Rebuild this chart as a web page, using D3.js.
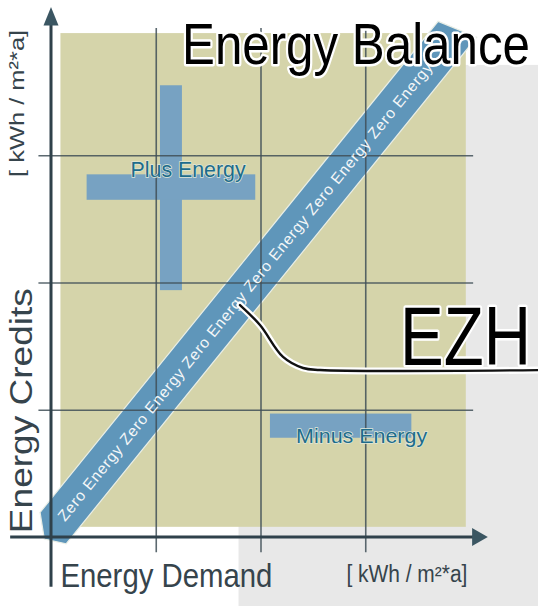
<!DOCTYPE html>
<html>
<head>
<meta charset="utf-8">
<script src="https://cdn.jsdelivr.net/npm/d3@7"></script>
<style>
  html, body { margin: 0; padding: 0; background: #fff; }
  svg { display: block; font-family: "Liberation Sans", Arial, sans-serif; }
</style>
</head>
<body>
<div id="chart"></div>
<script>
const width = 538;
const height = 606;

// values in grid units (kWh / m²*a)
const gridValues = [1, 2, 3];
const plotBox = [0.09, 3.96, 0.08, 3.96];          // x0, x1, y0, y1 (beige field)
const backBox = [1.79, 4.7, -0.6, 3.71];           // grey backdrop
const plusBars = [[1.04, 1.25, 1.94, 3.55], [0.34, 1.95, 2.65, 2.85]];
const minusBars = [[2.09, 3.44, 0.78, 0.97]];
const zeroBand = [[0.02, 0.07], [3.88, 3.99]];
const zeroWords = ["Zero Energy", "Zero Energy", "Zero Energy", "Zero Energy", "Zero Energy", "Zero Energy"];
const leaderPoints = [[1.804, 1.823], [1.995, 1.666], [2.215, 1.415], [2.406, 1.328], [2.568, 1.312], [4.7, 1.312]];
const titleText = "Energy Balance";
const tagText = "EZH";
const xTitle = "Energy Demand";
const yTitle = "Energy Credits";
const unitText = "[ kWh / m²*a]";
const plusText = "Plus Energy";
const minusText = "Minus Energy";

const svg = d3.select("#chart")
  .append("svg")
  .attr("width", width)
  .attr("height", height);

const x = d3.scaleLinear().domain([0, 4]).range([51, 470]);
const y = d3.scaleLinear().domain([0, 4]).range([537, 28]);

svg.append("rect").attr("width", width).attr("height", height).attr("fill", "#fff");

// grey backdrop and beige field
svg.append("rect")
  .attr("x", x(backBox[0])).attr("y", y(backBox[3]))
  .attr("width", x(backBox[1]) - x(backBox[0]))
  .attr("height", y(backBox[2]) - y(backBox[3]))
  .attr("fill", "#e8e8e8");

svg.append("rect")
  .attr("x", x(plotBox[0])).attr("y", y(plotBox[3]))
  .attr("width", x(plotBox[1]) - x(plotBox[0]))
  .attr("height", y(plotBox[2]) - y(plotBox[3]))
  .attr("fill", "#d5d4aa");

// plus / minus blocks
svg.selectAll(".blk")
  .data(plusBars.concat(minusBars))
  .enter()
  .append("rect")
  .attr("class", "blk")
  .attr("x", d => x(d[0]))
  .attr("y", d => y(d[3]))
  .attr("width", d => x(d[1]) - x(d[0]))
  .attr("height", d => y(d[2]) - y(d[3]))
  .attr("fill", "#77a2c2");

// zero energy band
const s = [x(zeroBand[0][0]), y(zeroBand[0][1])];
const e = [x(zeroBand[1][0]), y(zeroBand[1][1])];
const len = Math.hypot(e[0] - s[0], e[1] - s[1]);
const dx = (e[0] - s[0]) / len, dy = (e[1] - s[1]) / len;
const nx = -dy, ny = dx;   // points to lower right
const hw = 20;
const P = (p, a, b) => [p[0] + dx * a + nx * b, p[1] + dy * a + ny * b];
const bandPts = [
  P(s, 4, -hw), P(s, -14, 0), P(s, -4, hw),
  P(e, 6, hw), P(e, -6, -hw)
];
svg.append("polygon")
  .attr("points", bandPts.map(p => p.join(",")).join(" "))
  .attr("fill", "#5f96ba")
  .attr("stroke", "#e9eee6")
  .attr("stroke-width", 1.2);

// grid lines through the axis generators
svg.append("g")
  .attr("class", "grid")
  .attr("transform", `translate(${x(4.03)},0)`)
  .call(d3.axisLeft(y).tickValues(gridValues).tickSize(x(4.03) - x(-0.12)).tickFormat(""));
svg.append("g")
  .attr("class", "grid")
  .attr("transform", `translate(0,${y(-0.12)})`)
  .call(d3.axisTop(x).tickValues(gridValues).tickSize(y(-0.12) - y(4.0)).tickFormat(""));
svg.selectAll(".grid .domain").remove();
svg.selectAll(".grid line")
  .attr("stroke", "#3f4f57")
  .attr("stroke-width", 1.6)
  .attr("stroke-opacity", 0.85);

// band text
const angle = Math.atan2(dy, dx) * 180 / Math.PI;
const t0 = P(s, 12, 0);
svg.append("text")
  .attr("transform", `translate(${t0[0]},${t0[1]}) rotate(${angle})`)
  .attr("dy", "0.36em")
  .attr("font-size", 15.5)
  .attr("fill", "#f4f7f8")
  .attr("textLength", 585)
  .attr("lengthAdjust", "spacing")
  .text(zeroWords.join(" "));

// block labels
svg.append("text")
  .attr("x", x(0.76)).attr("y", y(2.83))
  .attr("font-size", 22)
  .attr("textLength", 115).attr("lengthAdjust", "spacingAndGlyphs")
  .attr("fill", "#1d6c8b")
  .attr("stroke", "#dfe6d8").attr("stroke-width", 1.5).attr("paint-order", "stroke")
  .text(plusText);
svg.append("text")
  .attr("x", x(2.34)).attr("y", y(0.74))
  .attr("font-size", 21)
  .attr("textLength", 131).attr("lengthAdjust", "spacingAndGlyphs")
  .attr("fill", "#1d6c8b")
  .attr("stroke", "#dfe6d8").attr("stroke-width", 1.5).attr("paint-order", "stroke")
  .text(minusText);

// axes with arrow heads
const axisCol = "#2f414b";
svg.append("line")
  .attr("x1", x(-0.39)).attr("x2", x(4.03))
  .attr("y1", y(0)).attr("y2", y(0))
  .attr("stroke", axisCol).attr("stroke-width", 3);
svg.append("line")
  .attr("x1", x(0)).attr("x2", x(0))
  .attr("y1", y(-0.39)).attr("y2", y(4.03))
  .attr("stroke", axisCol).attr("stroke-width", 3);
svg.append("path")
  .attr("d", `M${x(4.17)},${y(0)} L${x(4.02)},${y(0) - 9} L${x(4.02)},${y(0) + 9} Z`)
  .attr("fill", "#3b5662");
svg.append("path")
  .attr("d", `M${x(0)},${y(4.165)} L${x(0) - 7.5},${y(4.02)} L${x(0) + 7.5},${y(4.02)} Z`)
  .attr("fill", "#3b5662");

// axis titles
const labCol = "#36444c";
svg.append("text")
  .attr("x", x(0.09)).attr("y", 587)
  .attr("font-size", 34)
  .attr("textLength", 212).attr("lengthAdjust", "spacingAndGlyphs")
  .attr("fill", labCol)
  .text(xTitle);
svg.append("text")
  .attr("x", x(2.82)).attr("y", 582)
  .attr("font-size", 23)
  .attr("textLength", 121).attr("lengthAdjust", "spacingAndGlyphs")
  .attr("fill", labCol)
  .text(unitText);
svg.append("text")
  .attr("transform", `translate(32,${y(0.03)}) rotate(-90)`)
  .attr("font-size", 31)
  .attr("textLength", 245).attr("lengthAdjust", "spacingAndGlyphs")
  .attr("fill", labCol)
  .text(yTitle);
svg.append("text")
  .attr("transform", `translate(24,${y(2.83)}) rotate(-90)`)
  .attr("font-size", 20)
  .attr("textLength", 147).attr("lengthAdjust", "spacingAndGlyphs")
  .attr("fill", labCol)
  .text(unitText);

// leader line to EZH
const leader = d3.line()
  .x(d => x(d[0]))
  .y(d => y(d[1]))
  .curve(d3.curveCatmullRom.alpha(0.5));
svg.append("path")
  .attr("d", leader(leaderPoints))
  .attr("fill", "none").attr("stroke", "#fff")
  .attr("stroke-width", 7).attr("stroke-linecap", "round");
svg.append("path")
  .attr("d", leader(leaderPoints))
  .attr("fill", "none").attr("stroke", "#111")
  .attr("stroke-width", 2.4).attr("stroke-linecap", "round");

// big labels
svg.append("text")
  .attr("x", 400).attr("y", 365)
  .attr("font-size", 84)
  .attr("textLength", 131).attr("lengthAdjust", "spacingAndGlyphs")
  .attr("fill", "#000")
  .attr("stroke", "#fff").attr("stroke-width", 5).attr("stroke-linejoin", "round")
  .attr("paint-order", "stroke")
  .text(tagText);
svg.append("text")
  .attr("x", 182).attr("y", 64)
  .attr("font-size", 57)
  .attr("textLength", 348).attr("lengthAdjust", "spacingAndGlyphs")
  .attr("fill", "#000")
  .attr("stroke", "#fff").attr("stroke-width", 5).attr("stroke-linejoin", "round")
  .attr("paint-order", "stroke")
  .text(titleText);
</script>
</body>
</html>
